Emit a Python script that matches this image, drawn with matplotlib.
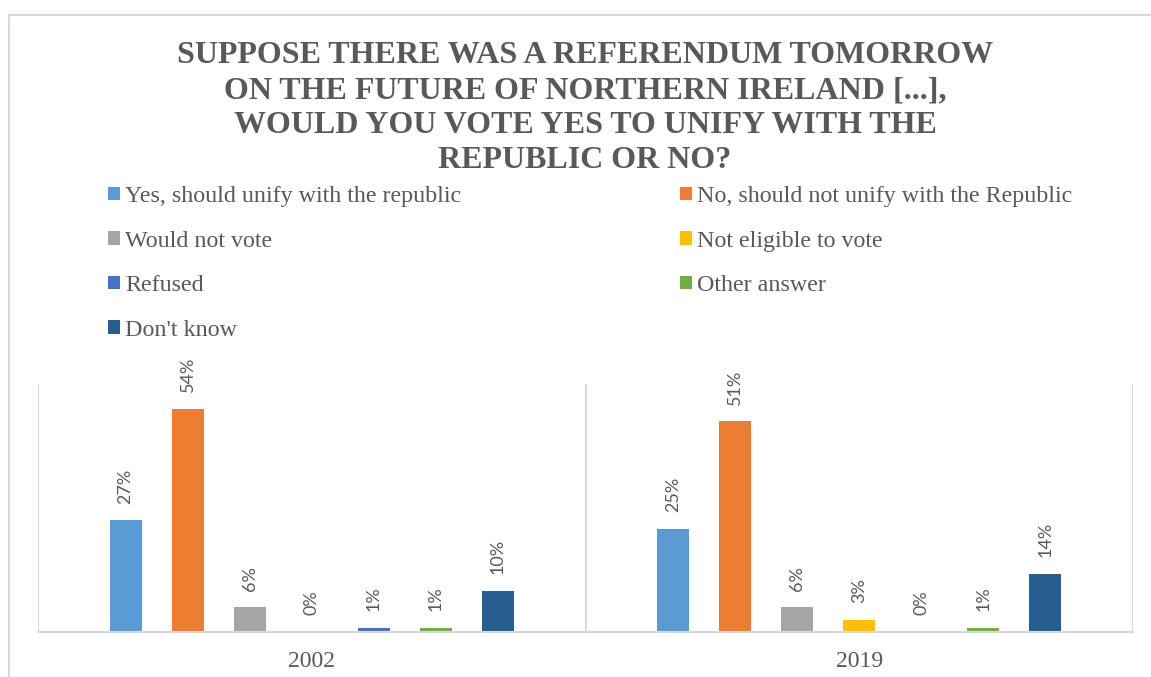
import matplotlib.pyplot as plt
import numpy as np
from matplotlib.lines import Line2D

# survey answers, one series per response
years = ["2002", "2019"]
answers = [
    "Yes, should unify with the republic",
    "No, should not unify with the Republic",
    "Would not vote",
    "Not eligible to vote",
    "Refused",
    "Other answer",
    "Don't know",
]
pct_2002 = [27, 54, 6, 0, 1, 1, 10]
pct_2019 = [25, 51, 6, 3, 0, 1, 14]

colors = ["#5B9BD5", "#ED7D31", "#A5A5A5", "#FFC000", "#4472C4", "#70AD47", "#255E91"]
text_grey = "#595959"
line_grey = "#D9D9D9"

W, H = 1151, 677
fig = plt.figure(figsize=(W / 100, H / 100), dpi=100)

# light frame round the chart
fig.add_artist(Line2D([9 / W, 9 / W], [0, 1 - 15 / H], color=line_grey, lw=1.5))
fig.add_artist(Line2D([9 / W, 1], [1 - 15 / H, 1 - 15 / H], color=line_grey, lw=1.5))

ax = fig.add_axes([38 / W, 45 / H, (1133 - 38) / W, (632 - 384) / H])

values = np.array([pct_2002, pct_2019])
x = np.arange(len(years))
step = 0.1133
width = 0.0585

bars = []
for i, ans in enumerate(answers):
    b = ax.bar(x + (i - 3) * step, values[:, i], width=width, color=colors[i], label=ans)
    bars.append(b)
    for rect, v in zip(b, values[:, i]):
        ax.annotate(f"{v}%", (rect.get_x() + rect.get_width() / 2, v),
                    xytext=(0, 12), textcoords="offset points",
                    rotation=90, ha="center", va="bottom",
                    fontsize=13, color=text_grey, family="Lato")

ax.set_xlim(-0.5, 1.5)
ax.set_ylim(0, 60)
for xv in (-0.5, 0.5, 1.5):
    ax.axvline(xv, color=line_grey, lw=1.5, zorder=0)

ax.set_yticks([])
ax.set_xticks(x)
ax.set_xticklabels(years, family="Liberation Serif", fontsize=17, color=text_grey)
ax.tick_params(axis="x", length=0, pad=14)
for side in ("top", "left", "right"):
    ax.spines[side].set_visible(False)
ax.spines["bottom"].set_color(line_grey)
ax.spines["bottom"].set_linewidth(1.5)

fig.text(585 / W, 1 - 108 / H,
         "SUPPOSE THERE WAS A REFERENDUM TOMORROW\n"
         "ON THE FUTURE OF NORTHERN IRELAND [...],\n"
         "WOULD YOU VOTE YES TO UNIFY WITH THE\n"
         "REPUBLIC OR NO?",
         ha="center", va="center", fontsize=23, fontweight="bold",
         family="Liberation Serif", color=text_grey, linespacing=1.26)

# legend fills column by column, so reorder to read row by row
order = [0, 2, 4, 6, 1, 3, 5]
leg = fig.legend([bars[i] for i in order], [answers[i] for i in order],
                 ncol=2, loc="upper left", bbox_to_anchor=(108 / W, 1 - 186 / H),
                 frameon=False, borderpad=0, borderaxespad=0,
                 handlelength=0.5, handleheight=0.5, handletextpad=0.22,
                 labelspacing=0.98, columnspacing=9.1,
                 prop={"family": "Liberation Serif", "size": 17.3})
for t in leg.get_texts():
    t.set_color(text_grey)

fig.savefig("out.png", dpi=100)
